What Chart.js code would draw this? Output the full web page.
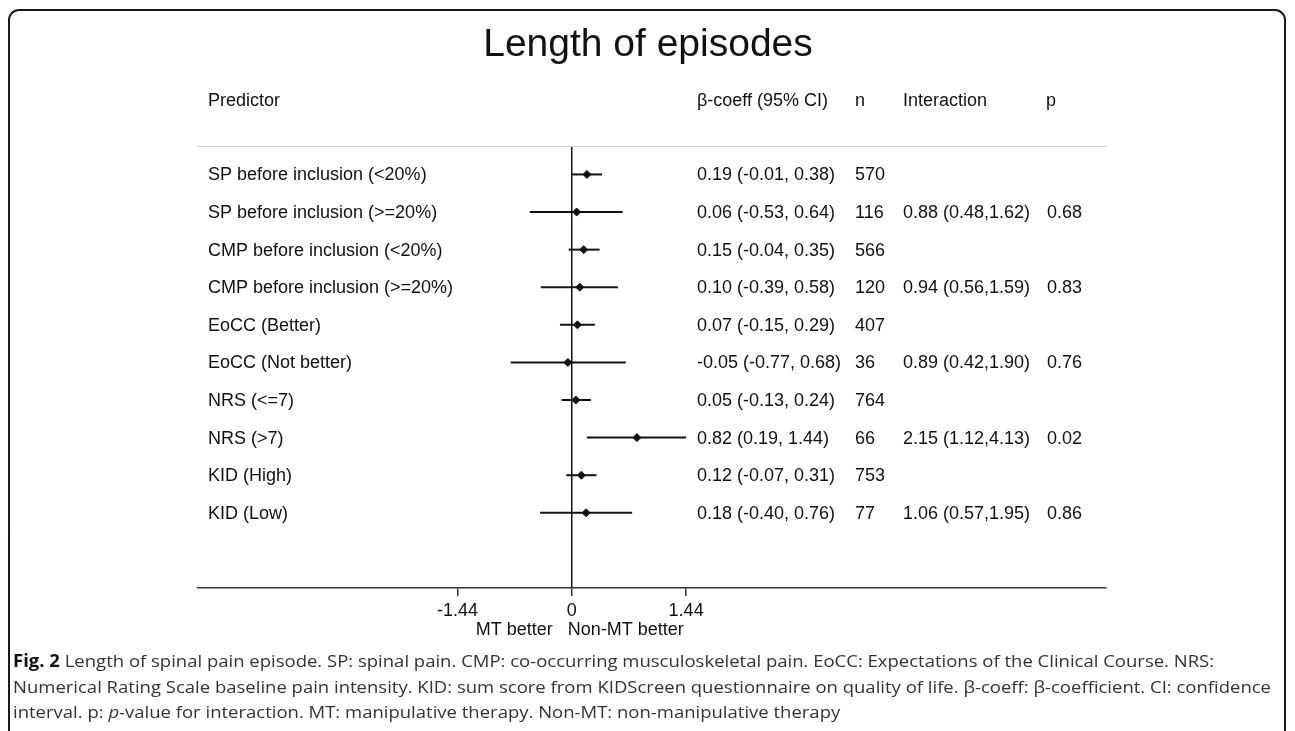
<!DOCTYPE html>
<html>
<head>
<meta charset="utf-8">
<script src="https://cdn.jsdelivr.net/npm/chart.js@4.4.0/dist/chart.umd.min.js"></script>
<style>
  body { margin: 0; background: #fff; }
  canvas { display: block; }
</style>
</head>
<body>
<canvas id="myChart" width="1295" height="731"></canvas>
<script>
const predictors = [
  'SP before inclusion (<20%)',
  'SP before inclusion (>=20%)',
  'CMP before inclusion (<20%)',
  'CMP before inclusion (>=20%)',
  'EoCC (Better)',
  'EoCC (Not better)',
  'NRS (<=7)',
  'NRS (>7)',
  'KID (High)',
  'KID (Low)'
];
const coef   = [0.19, 0.06, 0.15, 0.10, 0.07, -0.05, 0.05, 0.82, 0.12, 0.18];
const ciLow  = [-0.01, -0.53, -0.04, -0.39, -0.15, -0.77, -0.13, 0.19, -0.07, -0.40];
const ciHigh = [0.38, 0.64, 0.35, 0.58, 0.29, 0.68, 0.24, 1.44, 0.31, 0.76];
const nObs   = [570, 116, 566, 120, 407, 36, 764, 66, 753, 77];
const interEst  = [null, 0.88, null, 0.94, null, 0.89, null, 2.15, null, 1.06];
const interLow  = [null, 0.48, null, 0.56, null, 0.42, null, 1.12, null, 0.57];
const interHigh = [null, 1.62, null, 1.59, null, 1.90, null, 4.13, null, 1.95];
const pValues   = [null, 0.68, null, 0.83, null, 0.76, null, 0.02, null, 0.86];
const tickValues = [-1.44, 0, 1.44];
const tickLabels = ['-1.44', '0', '1.44'];

const FONT = '"Liberation Sans", Arial, sans-serif';
const f2 = v => v.toFixed(2);

// one line dataset per confidence interval
const ciSets = coef.map((c, i) => ({
  type: 'line',
  data: [{x: ciLow[i], y: i + 1}, {x: ciHigh[i], y: i + 1}],
  borderColor: '#111',
  borderWidth: 2,
  pointRadius: 0,
  fill: false
}));

const pointSet = {
  type: 'scatter',
  data: coef.map((c, i) => ({x: c, y: i + 1})),
  pointStyle: 'rectRot',
  pointRadius: 4,
  backgroundColor: '#111',
  borderColor: '#111',
  borderWidth: 1
};

const forestText = {
  id: 'forestText',
  beforeDraw(chart) {
    const ctx = chart.ctx;
    const a = chart.chartArea;
    ctx.save();
    ctx.fillStyle = '#fff';
    ctx.fillRect(0, 0, chart.width, chart.height);
    // frame
    ctx.strokeStyle = '#1a1a1a';
    ctx.lineWidth = 2;
    ctx.beginPath();
    ctx.roundRect(9, 10, 1276, 780, 10);
    ctx.stroke();
    // grey rule under the headers
    ctx.strokeStyle = '#cfcfcf';
    ctx.lineWidth = 1;
    ctx.beginPath();
    ctx.moveTo(a.left, a.top - 0.5);
    ctx.lineTo(a.right, a.top - 0.5);
    ctx.stroke();
    ctx.restore();
  },
  afterDraw(chart) {
    const ctx = chart.ctx;
    const y = chart.scales.y;
    const x = chart.scales.x;
    ctx.save();
    ctx.fillStyle = '#111';
    ctx.textBaseline = 'middle';

    ctx.textAlign = 'center';
    ctx.font = '39px ' + FONT;
    ctx.fillText('Length of episodes', 648, 45);

    ctx.textAlign = 'left';
    ctx.font = '18px ' + FONT;
    ctx.fillText('Predictor', 208, 101);
    ctx.fillText('β-coeff (95% CI)', 697, 101);
    ctx.fillText('n', 855, 101);
    ctx.fillText('Interaction', 903, 101);
    ctx.fillText('p', 1046, 101);

    predictors.forEach((lab, i) => {
      const yy = y.getPixelForValue(i + 1) + 1;
      ctx.fillText(lab, 208, yy);
      ctx.fillText(f2(coef[i]) + ' (' + f2(ciLow[i]) + ', ' + f2(ciHigh[i]) + ')', 697, yy);
      ctx.fillText(String(nObs[i]), 855, yy);
      if (interEst[i] !== null) {
        ctx.fillText(f2(interEst[i]) + ' (' + f2(interLow[i]) + ',' + f2(interHigh[i]) + ')', 903, yy);
        ctx.fillText(f2(pValues[i]), 1047, yy);
      }
    });

    const x0 = x.getPixelForValue(0);
    ctx.textAlign = 'right';
    ctx.fillText('MT better', x0 - 19, 630);
    ctx.textAlign = 'left';
    ctx.fillText('Non-MT better', x0 - 4, 630);

    // caption
    const capFont = '"Open Sans", "Noto Sans", sans-serif';
    const lines = [
      [['b', 'Fig. 2'], ['n', ' Length of spinal pain episode. SP: spinal pain. CMP: co-occurring musculoskeletal pain. EoCC: Expectations of the Clinical Course. NRS:']],
      [['n', 'Numerical Rating Scale baseline pain intensity. KID: sum score from KIDScreen questionnaire on quality of life. β-coeff: β-coefficient. CI: confidence']],
      [['n', 'interval. p: '], ['i', 'p'], ['n', '-value for interaction. MT: manipulative therapy. Non-MT: non-manipulative therapy']]
    ];
    const fontFor = s => (s === 'b' ? 'bold ' : s === 'i' ? 'italic ' : '') + '17px ' + capFont;
    const widthOf = line => line.reduce((w, seg) => { ctx.font = fontFor(seg[0]); return w + ctx.measureText(seg[1]).width; }, 0);
    const sx = 1258 / widthOf(lines[1]);
    const capY = [662, 688, 713];
    ctx.textAlign = 'left';
    lines.forEach((line, li) => {
      let cx = 0;
      ctx.save();
      ctx.translate(13, capY[li]);
      ctx.scale(sx, 1);
      line.forEach(seg => {
        ctx.font = fontFor(seg[0]);
        ctx.fillStyle = seg[0] === 'b' ? '#111' : '#333';
        ctx.fillText(seg[1], cx, 0);
        cx += ctx.measureText(seg[1]).width;
      });
      ctx.restore();
    });
    ctx.restore();
  }
};

new Chart(document.getElementById('myChart').getContext('2d'), {
  data: { datasets: [...ciSets, pointSet] },
  options: {
    responsive: false,
    animation: false,
    devicePixelRatio: 1,
    layout: { padding: { left: 198, right: 189, top: 147, bottom: 103 } },
    plugins: { legend: { display: false }, tooltip: { enabled: false }, title: { display: false } },
    scales: {
      x: {
        type: 'linear',
        min: -4.71,
        max: 6.73,
        afterBuildTicks: scale => { scale.ticks = tickValues.map(v => ({ value: v })); },
        afterFit: scale => { scale.height = 40; },
        ticks: {
          callback: (v, i) => tickLabels[i],
          font: { size: 18, family: FONT },
          color: '#111',
          padding: 4,
          maxRotation: 0,
          autoSkip: false
        },
        grid: {
          color: c => (c.tick && c.tick.value === 0 ? '#111' : 'rgba(0,0,0,0)'),
          lineWidth: 1.5,
          drawTicks: true,
          tickLength: 8,
          tickColor: '#333'
        },
        border: { display: true, color: '#333', width: 1.5 }
      },
      y: {
        type: 'linear',
        reverse: true,
        min: 0.27,
        max: 12.0,
        display: false
      }
    }
  },
  plugins: [forestText]
});
</script>
</body>
</html>
